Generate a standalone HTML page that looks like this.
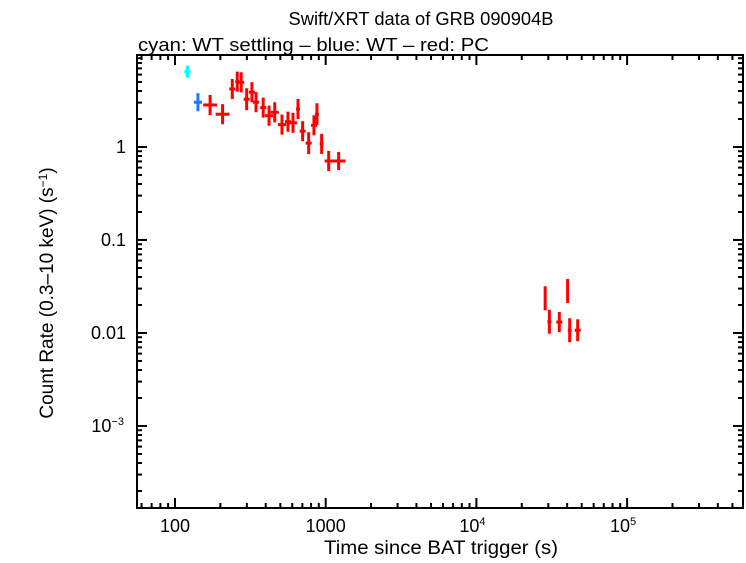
<!DOCTYPE html>
<html><head><meta charset="utf-8"><style>
body{margin:0;background:#fff;width:746px;height:558px;overflow:hidden}
svg text{font-family:"Liberation Sans",sans-serif;fill:#000}
</style></head><body>
<svg id="chart" width="746" height="558" xmlns="http://www.w3.org/2000/svg">
<text x="421" y="25" font-size="18" text-anchor="middle" textLength="265" lengthAdjust="spacingAndGlyphs">Swift/XRT data of GRB 090904B</text>
<text x="138" y="51" font-size="18" textLength="351" lengthAdjust="spacingAndGlyphs">cyan: WT settling – blue: WT – red: PC</text>
<text x="441" y="554" font-size="19" text-anchor="middle" textLength="234" lengthAdjust="spacingAndGlyphs">Time since BAT trigger (s)</text>
<text transform="translate(53,293) rotate(-90)" font-size="19" text-anchor="middle">Count Rate (0.3–10 keV) (s<tspan dy="-6" font-size="12">−1</tspan><tspan dy="6">)</tspan></text>
<g id="axes"></g><g id="marks"></g>
</svg>
<script>
const times=[121,142,171,207,240,259,275,299,324,345,385,421,459,513,562,607,655,703,771,836,875,940,1047,1219,28600,30500,35500,40300,41600,47000];
const rates=[6.45,3.03,2.83,2.25,4.2,5.04,4.96,3.26,3.88,3.03,2.65,2.17,2.36,1.74,1.87,1.82,2.56,1.48,1.10,1.71,2.25,1.08,0.707,0.707,0.0236,0.0132,0.0131,0.0283,0.0107,0.0107];
const timeErrDex=[0.02,0.027,0.046,0.046,0.02,0.013,0.02,0.02,0.02,0.02,0.02,0.027,0.027,0.027,0.02,0.027,0.013,0.02,0.02,0.02,0.013,0.013,0.027,0.046,0.007,0.013,0.02,0.007,0.013,0.02];
const rateErrDex=[0.065,0.097,0.108,0.108,0.108,0.108,0.108,0.118,0.108,0.108,0.108,0.108,0.108,0.108,0.108,0.108,0.108,0.108,0.118,0.108,0.118,0.108,0.108,0.097,0.129,0.129,0.108,0.129,0.129,0.118];
const modes=["settling","wt","pc","pc","pc","pc","pc","pc","pc","pc","pc","pc","pc","pc","pc","pc","pc","pc","pc","pc","pc","pc","pc","pc","pc","pc","pc","pc","pc","pc"];
const xTickLabels=["100","1000","10^4","10^5"];
const yTickLabels=["1","0.1","0.01","10^-3"];
const L=137,R=743,T=55,B=508;
const xMin=1.748,xMax=5.769,yMin=-3.882,yMax=0.989;
const xs=v=>L+(Math.log10(v)-xMin)/(xMax-xMin)*(R-L);
const ys=v=>B-(Math.log10(v)-yMin)/(yMax-yMin)*(B-T);
const NS="http://www.w3.org/2000/svg";
const ax=document.getElementById('axes'),mk=document.getElementById('marks');
function ln(p,x1,y1,x2,y2,c,w){const e=document.createElementNS(NS,'line');e.setAttribute('x1',x1);e.setAttribute('y1',y1);e.setAttribute('x2',x2);e.setAttribute('y2',y2);e.setAttribute('stroke',c);e.setAttribute('stroke-width',w);p.appendChild(e);return e;}
const fr=document.createElementNS(NS,'rect');


fr.setAttribute('x',L);fr.setAttribute('y',T);fr.setAttribute('width',R-L);fr.setAttribute('height',B-T);fr.setAttribute('fill','none');fr.setAttribute('stroke','#000');fr.setAttribute('stroke-width',2);ax.appendChild(fr);
function lbl(s,x,y,anchor){const t=document.createElementNS(NS,'text');t.setAttribute('x',x);t.setAttribute('y',y);t.setAttribute('font-size','18');t.setAttribute('text-anchor',anchor);
 if(s.includes('^')){const [b,e]=s.split('^');t.textContent=b;const sp=document.createElementNS(NS,'tspan');sp.setAttribute('dy','-7');sp.setAttribute('font-size','11');sp.textContent=e.replace('-','−');t.appendChild(sp);} else t.textContent=s;ax.appendChild(t);return t;}
for(let d=1;d<=6;d++)for(let m=1;m<10;m++){const v=m*Math.pow(10,d);const x=xs(v);if(x<L||x>R)continue;const len=m===1?10:5;ln(ax,x,B,x,B-len,'#000',2);ln(ax,x,T,x,T+len,'#000',2);}
xTickLabels.forEach((s,i)=>{const t=lbl(s,xs(Math.pow(10,i+2))+(s.includes('^')?-4:0),532,'middle');

});
for(let d=-4;d<=1;d++)for(let m=1;m<10;m++){const v=m*Math.pow(10,d);const y=ys(v);if(y<T||y>B)continue;const len=m===1?10:5;ln(ax,L,y,L+len,y,'#000',2);ln(ax,R,y,R-len,y,'#000',2);}
yTickLabels.forEach((s,i)=>{const t=lbl(s,s.includes('^')?124:126,ys(Math.pow(10,-i))+6,'end');

});
const col={settling:'#00ffff',wt:'#1e78ff',pc:'#ff0000'};
times.forEach((t,i)=>{const g=document.createElementNS(NS,'g');


const c=col[modes[i]];const lt=Math.log10(t),lr=Math.log10(rates[i]);
ln(g,xs(Math.pow(10,lt-timeErrDex[i])),ys(rates[i]),xs(Math.pow(10,lt+timeErrDex[i])),ys(rates[i]),c,3);
ln(g,xs(t),ys(Math.pow(10,lr-rateErrDex[i])),xs(t),ys(Math.pow(10,lr+rateErrDex[i])),c,3);
mk.appendChild(g);});
</script>
</body></html>
